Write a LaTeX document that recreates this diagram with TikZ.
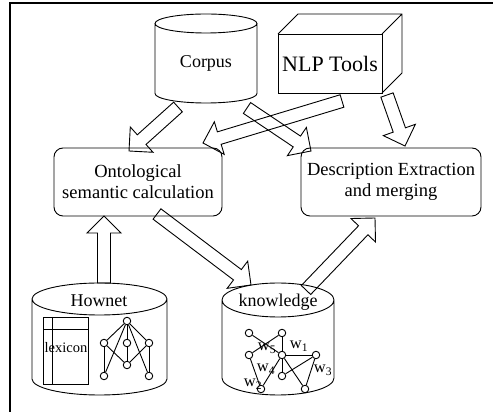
\documentclass[tikz,border=0pt]{standalone}
\usepackage{fontspec}
\setmainfont{Liberation Serif}
\usetikzlibrary{calc}

% cylinder outline over a (blank) node box; #2 = radius of the end caps
\newcommand\drawdb[2]{%
  \draw let \p1=(#1.north west), \p2=(#1.south east), \n1={(\x2-\x1)/2} in
    (\x1+\n1,\y1-#2pt) ellipse [x radius=\n1, y radius=#2pt]
    (\x1,\y1-#2pt) -- (\x1,\y2+#2pt)
      arc [start angle=180, end angle=360, x radius=\n1, y radius=#2pt]
      -- (\x2,\y1-#2pt);}

\tikzset{
  dbbody/.style={rectangle, inner sep=0pt, outer sep=0pt},
  procbox/.style={draw, rectangle, rounded corners=9pt, minimum height=68pt,
    inner sep=0pt, outer sep=0pt, align=center, font=\fontsize{18.5}{21}\selectfont},
  lbl/.style={inner sep=0pt, font=\fontsize{18}{21}\selectfont},
  gnode/.style={circle, draw, inner sep=0pt, minimum size=7.5pt},
  wlbl/.style={inner sep=0pt, font=\fontsize{16.5}{18}\selectfont},
  fatarrow/.style={draw, to path={
    let \p1=($(\tikztotarget)!17pt!(\tikztostart)$) in
    ($(\tikztostart)!6.5pt!90:(\tikztotarget)$) -- ($(\p1)!6.5pt!-90:(\tikztostart)$)
    -- ($(\p1)!17pt!-90:(\tikztostart)$) -- (\tikztotarget)
    -- ($(\p1)!17pt!90:(\tikztostart)$) -- ($(\p1)!6.5pt!90:(\tikztostart)$)
    -- ($(\tikztostart)!6.5pt!-90:(\tikztotarget)$) -- cycle}}
}

\begin{document}
\begin{tikzpicture}[x=1pt, y=1pt, line width=0.9pt]
\useasboundingbox (0,0) rectangle (493,412);
% page frame
\draw[line width=2.5pt] (10,0) -- (10,409) -- (493,409);

% corpus store
\node[dbbody, minimum width=102pt, minimum height=89pt] (corpus) at (206,353.5) {};
\drawdb{corpus}{9.5}
\node[lbl] (corpustxt) at (206,349) {Corpus};

% NLP tools as a box
\node[draw, minimum width=104pt, minimum height=59pt, inner sep=0pt, outer sep=0pt,
  font=\fontsize{22}{26}\selectfont] (nlp) at (330,348.5) {NLP Tools};
\draw (nlp.north west) -- ++(20,20) -- ++(104,0) coordinate (nlpback) -- ++(0,-59) -- (nlp.south east)
      (nlp.north east) -- (nlpback);

% processing steps
\node[procbox, minimum width=168pt] (onto) at (138,230) {Ontological\\semantic calculation};
\node[procbox, minimum width=180pt] (desc) at (391,230) {Description Extraction\\and merging};

% Hownet store
\node[dbbody, minimum width=135pt, minimum height=112pt] (hownet) at (99.5,73) {};
\drawdb{hownet}{16}
\node[lbl] (hownettxt) at (99,111) {Hownet};

\node[draw, minimum width=45pt, minimum height=67pt, inner sep=0pt, outer sep=0pt] (lex) at (65.5,61.5) {};
\draw ([xshift=9pt]lex.north west) -- ([xshift=9pt]lex.south west)
      ([yshift=-12pt]lex.north west) -- ([yshift=-12pt]lex.north east);
\node[inner sep=0pt, font=\fontsize{14.5}{17}\selectfont] (lextxt) at (66,64) {lexicon};

\foreach \n/\x/\y in {ht/127/91, hl/104/69, hc/127/69, hr/149/69, hm/127/47, hbl/104/36, hbr/149/36}
  \node[gnode] (\n) at (\x,\y) {};
\foreach \a/\b in {ht/hl, ht/hc, ht/hr, ht/hbl, ht/hbr, hl/hm, hr/hm, hc/hm, hl/hbl, hr/hbr}
  \draw (\a) -- (\b);

% knowledge store
\node[dbbody, minimum width=112pt, minimum height=112pt] (know) at (278,73) {};
\drawdb{know}{17}
\node[lbl] (knowtxt) at (278,110) {knowledge};

\foreach \n/\x/\y in {ka/249/79, kb/282/79, kc/249/57, kd/282/57, ke/316/57, kf/282/36, kg/261/23, kh/305/23}
  \node[gnode] (\n) at (\x,\y) {};
\foreach \a/\b in {ka/kd, kb/kc, kb/kd, kd/ke, kd/kf, kd/kg, kc/kg, ke/kh, kd/kh, kf/ke}
  \draw (\a) -- (\b);
\node[wlbl] (w5) at (267,64) {w\textsubscript{5}};
\node[wlbl] (w1) at (299,66) {w\textsubscript{1}};
\node[wlbl] (w4) at (266,43) {w\textsubscript{4}};
\node[wlbl] (w3) at (323,42) {w\textsubscript{3}};
\node[wlbl] (w2) at (253,28) {w\textsubscript{2}};

% flows
\coordinate (a1s) at ($(corpus.south)+(-28,-4)$);
\coordinate (a1t) at ($(onto.north)+(-9,-3)$);
\coordinate (a2s) at ($(corpus.south)+(41,-5)$);
\coordinate (a2t) at ($(desc.north)+(-80,-3)$);
\coordinate (a3s) at ($(nlp.south)+(12,-8)$);
\coordinate (a3t) at ($(onto.north east)+(-19,5)$);
\coordinate (a4s) at ($(nlp.south east)+(5,-2)$);
\coordinate (a4t) at ($(desc.north)+(14,2)$);
\coordinate (a5s) at ($(hownet.north)+(4.5,0)$);
\coordinate (a5t) at ($(onto.south)+(-34,0)$);
\coordinate (a6s) at ($(onto.south)+(19,2)$);
\coordinate (a6t) at ($(know.north)+(-27,-2)$);
\coordinate (a7s) at ($(know.north)+(28,-7)$);
\coordinate (a7t) at ($(desc.south)+(-16,-2)$);
\foreach \i in {1,...,7}
  \draw[fatarrow] (a\i s) to (a\i t);
\end{tikzpicture}
\end{document}
